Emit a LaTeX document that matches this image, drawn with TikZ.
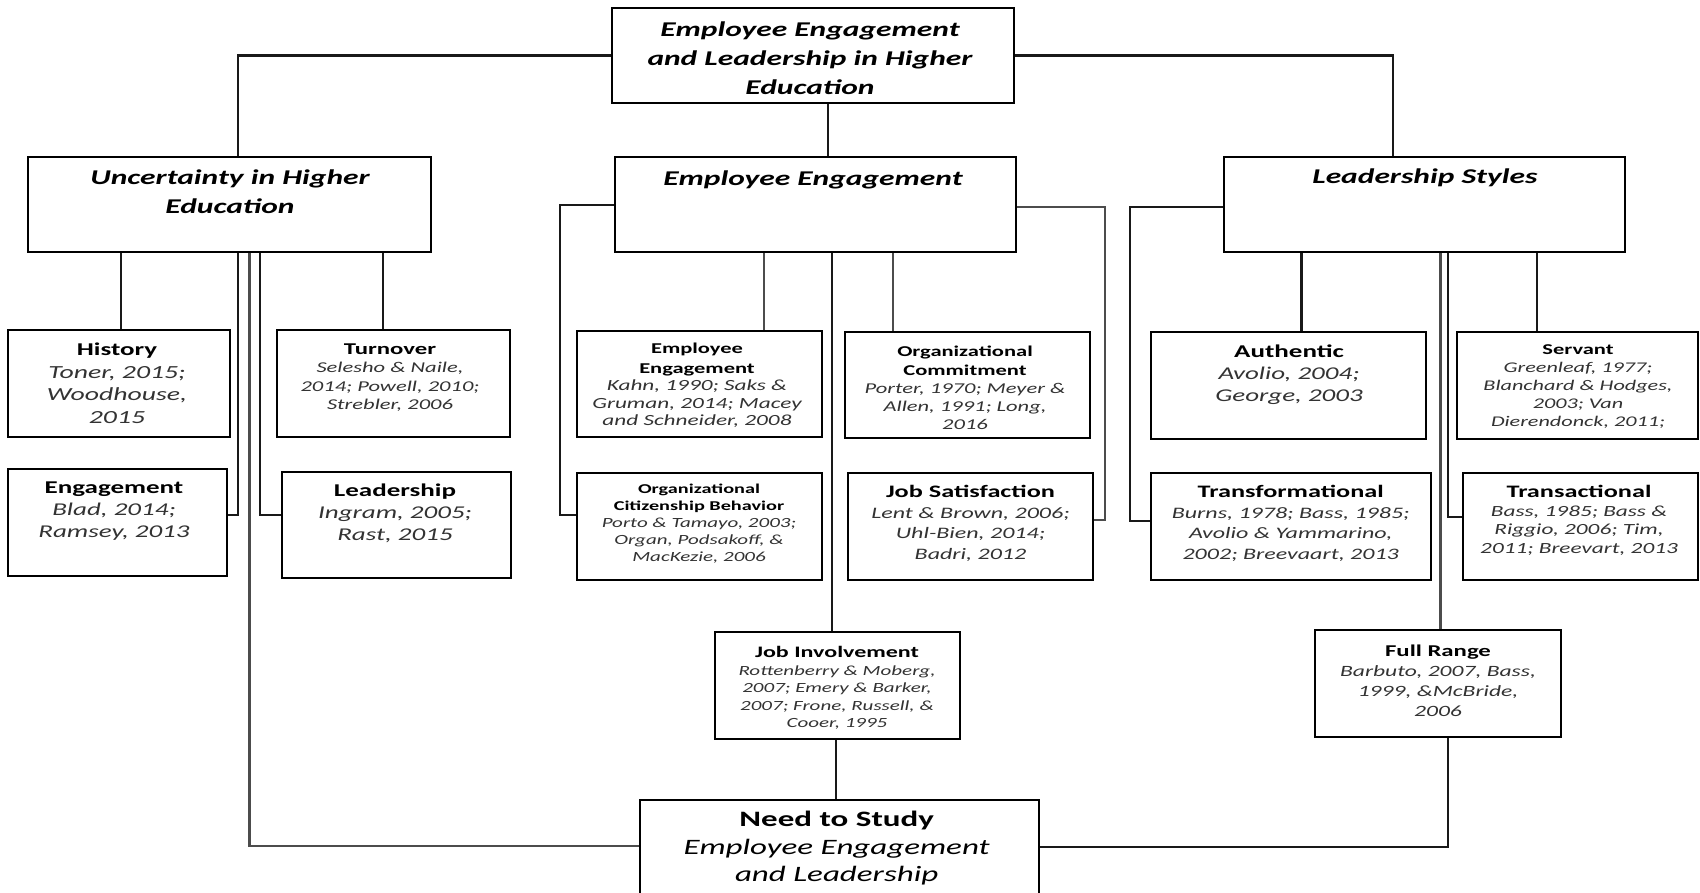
\documentclass[tikz,border=0pt]{standalone}
\usepackage{fontspec}
\setmainfont{Carlito}[FakeStretch=1.5]
\newcommand\myfs[2]{\fontsize{#1}{#2}\selectfont}
\newcommand\hd[2]{{\color{black}\upshape\bfseries\myfs{#1}{#1}#2}}
\tikzset{
  bx/.style={draw=black, line width=2.4pt, inner sep=0pt},
  conn/.style={line width=2.2pt, draw=black!90},
  gconn/.style={line width=2.2pt, draw=black!70},
  tt/.style={align=center, inner sep=0pt, text=black!80},
  ttl/.style={align=center, inner sep=0pt, text=black, font=\myfs{21}{29}\bfseries\itshape},
}
\begin{document}
\begin{tikzpicture}[x=1pt,y=-1pt]
\useasboundingbox (0,0) rectangle (1700,893);
\fill[white] (0,0) rectangle (1700,893);
% boxes
\node[bx, minimum width=402pt, minimum height=95pt] (top) at (813,55.5) {};
\node[bx, minimum width=403pt, minimum height=95pt] (UH) at (229.5,204.5) {};
\node[bx, minimum width=401pt, minimum height=95pt] (EE) at (815.5,204.5) {};
\node[bx, minimum width=401pt, minimum height=95pt] (LS) at (1424.5,204.5) {};
\node[bx, minimum width=222pt, minimum height=107pt] (Hist) at (119,383.5) {};
\node[bx, minimum width=233pt, minimum height=107pt] (Turn) at (393.5,383.5) {};
\node[bx, minimum width=219pt, minimum height=107pt] (Eng) at (117.5,522.5) {};
\node[bx, minimum width=229pt, minimum height=106pt] (Lead) at (396.5,525) {};
\node[bx, minimum width=245pt, minimum height=106pt] (EEl) at (699.5,384) {};
\node[bx, minimum width=245pt, minimum height=106pt] (OC) at (967.5,385) {};
\node[bx, minimum width=245pt, minimum height=107pt] (OCB) at (699.5,526.5) {};
\node[bx, minimum width=245pt, minimum height=107pt] (JS) at (970.5,526.5) {};
\node[bx, minimum width=275pt, minimum height=107pt] (Auth) at (1288.5,385.5) {};
\node[bx, minimum width=241pt, minimum height=107pt] (Serv) at (1577.5,385.5) {};
\node[bx, minimum width=280pt, minimum height=107pt] (TF) at (1291,526.5) {};
\node[bx, minimum width=235pt, minimum height=107pt] (TA) at (1580.5,526.5) {};
\node[bx, minimum width=245pt, minimum height=107pt] (JI) at (837.5,685.5) {};
\node[bx, minimum width=246pt, minimum height=107pt] (FR) at (1438,683.5) {};
\node[bx, minimum width=399pt, minimum height=97pt] (NTS) at (839.5,848.5) {};
% texts
\node[ttl] (topT) at (810,58) {Employee Engagement\\and Leadership in Higher\\Education};
\node[ttl] (UHT) at (230,192) {Uncertainty in Higher\\Education};
\node[ttl] (EET) at (813,180) {Employee Engagement};
\node[ttl] (LST) at (1425,178) {Leadership Styles};
\node[tt, font=\myfs{18.5}{22.5}\itshape] (HistT) at (117,383) {\hd{18}{History}\\Toner, 2015;\\Woodhouse,\\2015};
\node[tt, font=\myfs{15}{18.5}\itshape] (TurnT) at (390,377.5) {\hd{16.5}{Turnover}\\Selesho \& Naile,\\2014; Powell, 2010;\\Strebler, 2006};
\node[tt, font=\myfs{18}{22}\itshape] (EngT) at (114,511) {\hd{18}{Engagement}\\Blad, 2014;\\Ramsey, 2013};
\node[tt, font=\myfs{18}{22}\itshape] (LeadT) at (395,513) {\hd{18}{Leadership}\\Ingram, 2005;\\Rast, 2015};
\node[tt, font=\myfs{15.5}{17.5}\itshape] (EElT) at (697,385) {\hd{15}{Employee}\\[2.5pt]\hd{15}{Engagement}\\Kahn, 1990; Saks \&\\Gruman, 2014; Macey\\and Schneider, 2008};
\node[tt, font=\myfs{15}{18}\itshape] (OCT) at (965,388) {\hd{15}{Organizational}\\[1pt]\hd{15}{Commitment}\\Porter, 1970; Meyer \&\\Allen, 1991; Long,\\2016};
\node[tt, font=\myfs{14}{17}\itshape] (OCBT) at (699,524) {\hd{13.5}{Organizational}\\\hd{13.5}{Citizenship Behavior}\\Porto \& Tamayo, 2003;\\Organ, Podsakoff, \&\\MacKezie, 2006};
\node[tt, font=\myfs{16}{20.5}\itshape] (JST) at (970.5,523.5) {\hd{17.5}{Job Satisfaction}\\Lent \& Brown, 2006;\\Uhl-Bien, 2014;\\Badri, 2012};
\node[tt, font=\myfs{18}{22}\itshape] (AuthT) at (1289,375) {\hd{18}{Authentic}\\Avolio, 2004;\\George, 2003};
\node[tt, font=\myfs{14.8}{18}\itshape] (ServT) at (1578,386.5) {\hd{15}{Servant}\\Greenleaf, 1977;\\Blanchard \& Hodges,\\2003; Van\\Dierendonck, 2011;};
\node[tt, font=\myfs{16}{20.5}\itshape] (TFT) at (1290.7,523.5) {\hd{17.5}{Transformational}\\Burns, 1978; Bass, 1985;\\Avolio \& Yammarino,\\2002; Breevaart, 2013};
\node[tt, font=\myfs{15.5}{18.5}\itshape] (TAT) at (1579,520.5) {\hd{17.5}{Transactional}\\Bass, 1985; Bass \&\\Riggio, 2006; Tim,\\2011; Breevart, 2013};
\node[tt, font=\myfs{15.7}{20}\itshape] (FRT) at (1438,680.5) {\hd{16.5}{Full Range}\\Barbuto, 2007, Bass,\\1999, \&McBride,\\2006};
\node[tt, font=\myfs{14}{17.5}\itshape] (JIT) at (837,688) {\hd{16}{Job Involvement}\\Rottenberry \& Moberg,\\2007; Emery \& Barker,\\2007; Frone, Russell, \&\\Cooer, 1995};
\node[tt, text=black, font=\myfs{22}{27.5}\itshape] (NTST) at (836.7,848.5) {\hd{22}{Need to Study}\\Employee Engagement\\and Leadership};
% connectors level 1
\draw[conn] (top.west) -| ([xshift=8.5pt]UH.north);
\draw[conn] (top.east) -| ([xshift=-31.5pt]LS.north);
\draw[conn] ([xshift=15pt]top.south) -- ([xshift=12.5pt]EE.north);
% Uncertainty children
\draw[conn] ([xshift=2pt]Hist.north) -- ([xshift=2pt]Hist.north |- UH.south);
\draw[conn] ([xshift=-10.5pt]Turn.north) -- ([xshift=-10.5pt]Turn.north |- UH.south);
\draw[conn] ([xshift=8.5pt]UH.south) |- ([yshift=7.5pt]Eng.east);
\draw[conn] ([xshift=30.5pt]UH.south) |- ([yshift=10pt]Lead.west);
\draw[gconn] ([xshift=20pt]UH.south) |- ([yshift=2.5pt]NTS.west);
% Employee Engagement children
\draw[conn] ([yshift=-0.5pt]EE.west) -- ++(-53.5,0) |- ([yshift=11.5pt]OCB.west);
\draw[gconn] ([xshift=64.5pt]EEl.north) -- ([xshift=64.5pt]EEl.north |- EE.south);
\draw[conn] ([xshift=-5.5pt]JI.north) -- ([xshift=-5.5pt]JI.north |- EE.south);
\draw[gconn] ([xshift=-74.5pt]OC.north) -- ([xshift=-74.5pt]OC.north |- EE.south);
\draw[gconn] ([yshift=-2.5pt]EE.east) -- ++(88,0) |- ([yshift=6.5pt]JS.east);
% Leadership Styles children
\draw[conn] ([yshift=-2.5pt]LS.west) -- ++(-93,0) |- ([yshift=5.5pt]TF.west);
\draw[conn] ([xshift=13pt]Auth.north) -- ([xshift=13pt]Auth.north |- LS.south);
\draw[gconn] ([xshift=2.5pt]FR.north) -- ([xshift=2.5pt]FR.north |- LS.south);
\draw[conn] ([xshift=23.5pt]LS.south) |- ([yshift=9.5pt]TA.west);
\draw[conn] ([xshift=-40.5pt]Serv.north) -- ([xshift=-40.5pt]Serv.north |- LS.south);
% to Need to Study
\draw[conn] ([xshift=-1.5pt]JI.south) -- ([xshift=-1.5pt]JI.south |- NTS.north);
\draw[conn] ([xshift=10pt]FR.south) |- ([yshift=1.5pt]NTS.east);
\end{tikzpicture}
\end{document}
